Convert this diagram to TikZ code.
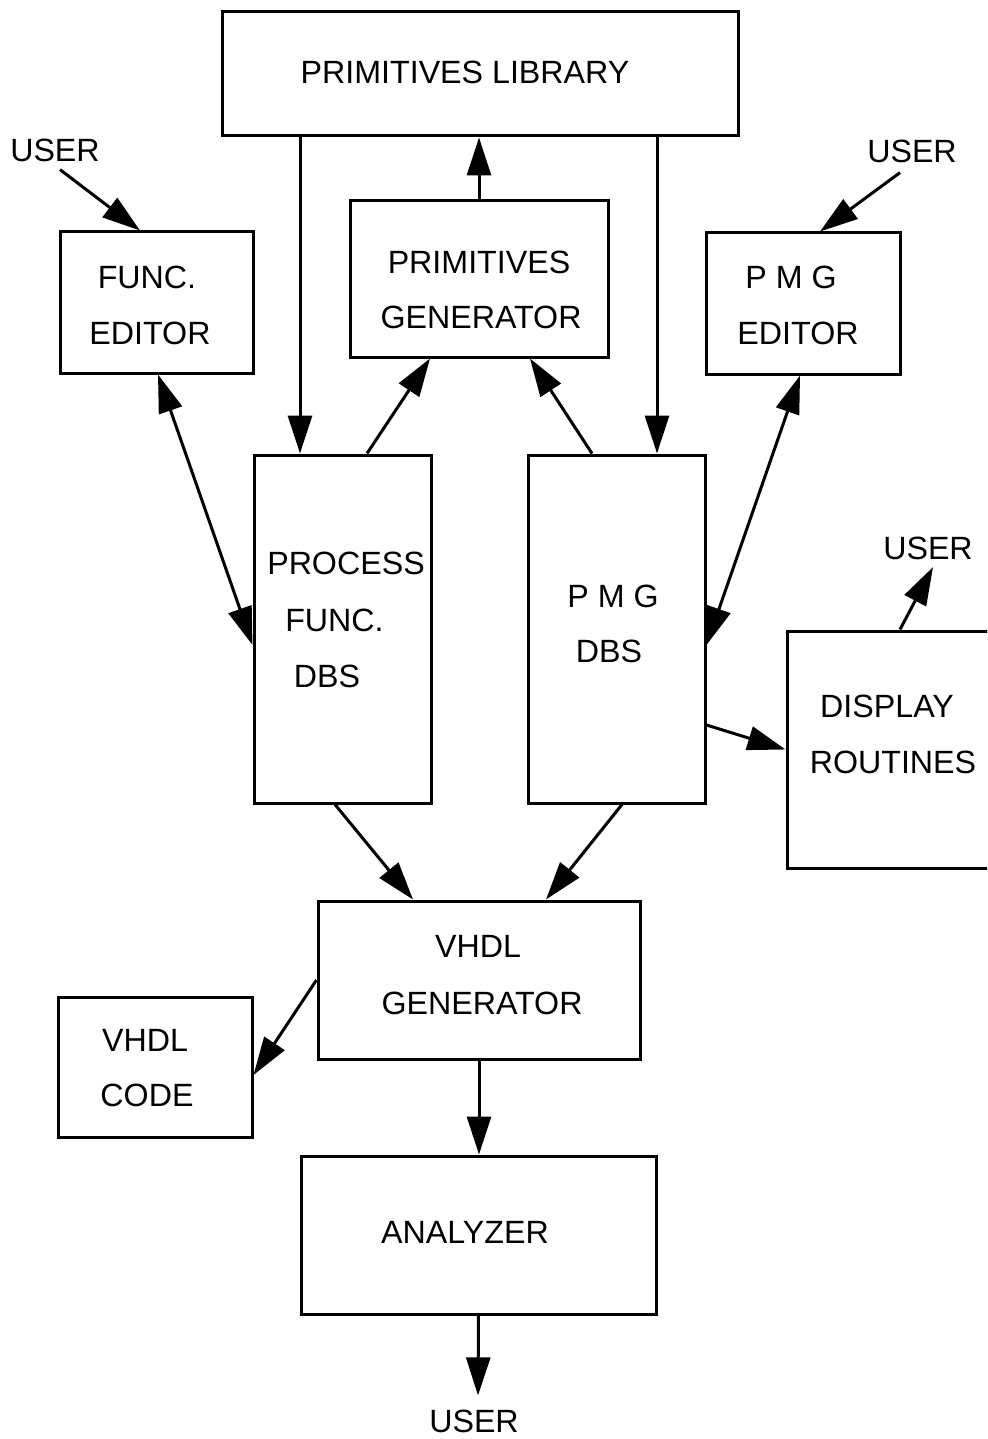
\documentclass[tikz,border=0pt]{standalone}
\usepackage{fontspec}
\setmainfont{Liberation Sans}
\usepackage{tikz}
\usetikzlibrary{arrows.meta}

\begin{document}
\begin{tikzpicture}[
    x=1pt, y=-1pt, % work in pixel units, y going down
    box/.style={
        draw, % Draw a border around the block
        line width=3pt,
        inner sep=0pt
    },
    txt/.style={
        inner sep=0pt,
        font=\fontsize{32.2}{38}\selectfont % large sans-serif labels
    },
    arr/.style={line width=3pt, -{Triangle[length=38pt,width=24pt]}}, % single arrow
    darr/.style={line width=3pt, {Triangle[length=38pt,width=24pt]}-{Triangle[length=38pt,width=24pt]}} % two-way arrow
]
\clip (0,0) rectangle (987,1439);

% blocks
\node[box, minimum width=516pt, minimum height=124pt] (lib) at (480,74) {};
\node[box, minimum width=193pt, minimum height=141pt] (fed) at (156.5,302.5) {};
\node[box, minimum width=258pt, minimum height=156pt] (pgen) at (479,279) {};
\node[box, minimum width=194pt, minimum height=141pt] (ped) at (803,303.5) {};
\node[box, minimum width=177pt, minimum height=348pt] (pfd) at (342.5,629) {};
\node[box, minimum width=177pt, minimum height=348pt] (pdb) at (616.5,629) {};
\node[box, minimum width=213pt, minimum height=237pt] (disp) at (893.5,749.5) {};
\node[box, minimum width=322pt, minimum height=158pt] (vgen) at (479,980) {};
\node[box, minimum width=194pt, minimum height=140pt] (vcode) at (155,1067) {};
\node[box, minimum width=355pt, minimum height=158pt] (ana) at (478.5,1235) {};

% block texts
\node[txt] (libtxt) at (465,72) {PRIMITIVES LIBRARY};
\node[txt] (fedtxta) at (147,277) {FUNC.};
\node[txt] (fedtxtb) at (150,333) {EDITOR};
\node[txt] (pgentxta) at (479,262) {PRIMITIVES};
\node[txt] (pgentxtb) at (481,317) {GENERATOR};
\node[txt] (pedtxta) at (791,277) {P M G};
\node[txt] (pedtxtb) at (798,333) {EDITOR};
\node[txt] (pfdtxta) at (346,563) {PROCESS};
\node[txt] (pfdtxtb) at (334.5,620) {FUNC.};
\node[txt] (pfdtxtc) at (327,676) {DBS};
\node[txt] (pdbtxta) at (613,596) {P M G};
\node[txt] (pdbtxtb) at (609,651) {DBS};
\node[txt] (disptxta) at (887,706) {DISPLAY};
\node[txt] (disptxtb) at (893,762) {ROUTINES};
\node[txt] (vgentxta) at (478,946) {VHDL};
\node[txt] (vgentxtb) at (482,1003) {GENERATOR};
\node[txt] (vcodetxta) at (145,1040) {VHDL};
\node[txt] (vcodetxtb) at (147,1095) {CODE};
\node[txt] (anatxt) at (465,1232) {ANALYZER};

% users
\node[txt] (userL) at (55,150) {USER};
\node[txt] (userR) at (912,151) {USER};
\node[txt] (userD) at (928,548) {USER};
\node[txt] (userB) at (474,1421) {USER};

% connectors
\draw[arr] ([xshift=5pt,yshift=-8pt]userL.south) -- ([xshift=-16.5pt]fed.north);
\draw[arr] ([xshift=-12pt,yshift=-10pt]userR.south) -- ([xshift=17pt]ped.north);
\draw[arr] ([xshift=-180pt]lib.south) -- ([xshift=-42.5pt]pfd.north);
\draw[arr] ([xshift=177pt]lib.south) -- ([xshift=40.5pt]pdb.north);
\draw[arr] (pgen.north) -- (pgen.north |- lib.south);
\draw[arr] ([xshift=24.5pt]pfd.north) -- ([xshift=-49pt]pgen.south);
\draw[arr] ([xshift=-24.5pt]pdb.north) -- ([xshift=51pt]pgen.south);
\draw[darr] ([xshift=1.5pt]fed.south) -- ([yshift=-16pt]pfd.west);
\draw[darr] ([xshift=-3pt]ped.south) -- ([yshift=-16pt]pdb.east);
\draw[arr] ([xshift=6.5pt]disp.north) -- ([xshift=5pt,yshift=-7.5pt]userD.south);
\draw[arr] ([yshift=-96pt]pdb.east) -- (disp.west);
\draw[arr] ([xshift=-7.5pt]pfd.south) -- ([xshift=-66pt]vgen.north);
\draw[arr] ([xshift=5.5pt]pdb.south) -- ([xshift=67pt]vgen.north);
\draw[arr] (vgen.west) -- ([yshift=-8pt]vcode.east);
\draw[arr] (vgen.south) -- (vgen.south |- ana.north);
\draw[arr] (ana.south) -- ([xshift=4pt,yshift=14pt]userB.north);
\end{tikzpicture}
\end{document}
